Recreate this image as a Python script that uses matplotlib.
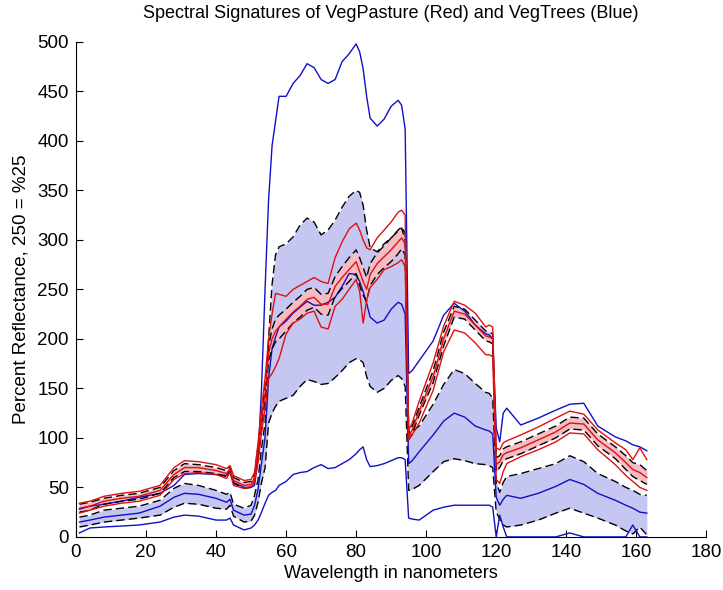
import matplotlib
matplotlib.use("Agg")
import matplotlib.pyplot as plt

# band positions (wavelength index) where values were read
bands = [1, 4, 8, 13, 18, 24, 28, 31, 35, 40, 43, 44, 45, 48, 50, 51, 52, 53, 54, 55,
         56, 57, 58, 60, 62, 64, 66, 68, 70, 72, 74, 76, 78, 80, 81, 82, 83, 84, 86, 88,
         90, 92, 93, 94, 95, 96, 98, 102, 105, 108, 111, 114, 117, 118, 119, 120, 121, 122, 123, 127,
         132, 137, 141, 145, 149, 154, 157, 159, 161, 163]

# VegTrees (blue): max, mean+std, mean, mean-std, min
trees_max = [28, 31, 33, 36, 40, 44, 52, 63, 64, 63, 62, 67, 55, 50, 50, 52, 80, 150, 250, 340,
             395, 420, 445, 445, 458, 466, 478, 474, 462, 458, 462, 480, 488, 498, 490, 473, 445, 423, 415, 422,
             435, 441, 436, 412, 165, 168, 178, 198, 224, 236, 228, 214, 205, 204, 200, 110, 96, 125, 130, 113,
             120, 128, 134, 135, 112, 101, 97, 93, 91, 87]
trees_hi = [20, 22, 27, 29, 31, 37, 49, 54, 52, 47, 43, 45, 33, 29, 32, 42, 58, 90, 115, 200,
            255, 285, 293, 296, 303, 315, 322, 318, 305, 310, 320, 333, 344, 350, 348, 335, 310, 292, 288, 296,
            302, 309, 312, 300, 105, 106, 112, 134, 154, 169, 165, 155, 146, 145, 140, 55, 45, 55, 61, 64,
            69, 74, 82, 76, 64, 56, 50, 47, 43, 42]
trees_mean = [15, 17, 20, 22, 24, 31, 40, 44, 43, 39, 35, 38, 27, 22, 23, 32, 48, 75, 100, 160,
              190, 202, 212, 218, 226, 232, 238, 234, 234, 237, 242, 253, 266, 265, 258, 248, 236, 222, 216, 219,
              230, 237, 235, 225, 74, 77, 86, 103, 117, 125, 121, 112, 108, 107, 104, 40, 32, 38, 42, 39,
              44, 51, 58, 53, 44, 37, 32, 29, 25, 24]
trees_lo = [10, 12, 15, 17, 19, 22, 30, 34, 33, 29, 28, 32, 21, 15, 16, 22, 35, 55, 70, 115,
            125, 132, 137, 140, 143, 152, 159, 157, 154, 155, 161, 168, 176, 180, 179, 176, 162, 152, 146, 150,
            158, 163, 160, 152, 47, 48, 52, 66, 76, 79, 77, 74, 73, 72, 70, 25, 18, 12, 10, 12,
            17, 24, 29, 24, 19, 12, 6, 3, 10, 2]
trees_min = [4, 9, 10, 11, 12, 15, 20, 22, 21, 17, 17, 19, 12, 7, 9, 12, 17, 25, 34, 42,
             45, 47, 52, 56, 63, 65, 66, 70, 73, 69, 70, 74, 78, 84, 88, 91, 78, 71, 72, 74,
             77, 80, 80, 78, 19, 18, 17, 27, 30, 32, 32, 32, 32, 32, 30, 0, 22, 10, 0, 0,
             0, 0, 4, 0, 0, 0, 0, 12, 0, 0]

# VegPasture (red): max, mean+std, mean, mean-std, min
past_max = [34, 36, 41, 44, 46, 52, 70, 77, 76, 73, 69, 72, 62, 57, 58, 65, 95, 130, 160, 200,
            225, 246, 245, 243, 250, 254, 258, 262, 258, 256, 282, 298, 311, 317, 310, 300, 292, 290, 302, 310,
            318, 328, 330, 325, 108, 115, 137, 176, 213, 238, 234, 226, 212, 214, 212, 90, 88, 95, 97, 103,
            111, 120, 127, 124, 108, 95, 88, 78, 90, 78]
past_hi = [33, 35, 39, 42, 44, 50, 67, 74, 73, 70, 67, 71, 60, 55, 56, 63, 92, 124, 152, 192,
           210, 220, 224, 230, 237, 243, 250, 252, 245, 246, 263, 273, 282, 290, 282, 272, 262, 276, 287, 294,
           302, 310, 313, 307, 104, 112, 131, 168, 207, 233, 230, 219, 208, 207, 205, 80, 82, 89, 91, 96,
           104, 112, 121, 120, 104, 91, 82, 75, 73, 67]
past_mean = [29, 31, 36, 39, 41, 47, 63, 70, 70, 67, 64, 69, 57, 52, 53, 60, 88, 118, 145, 185,
             200, 208, 212, 220, 227, 233, 240, 242, 235, 235, 253, 262, 270, 278, 268, 258, 250, 265, 276, 283,
             290, 298, 302, 296, 101, 108, 127, 162, 200, 228, 225, 214, 203, 202, 200, 73, 76, 83, 85, 90,
             98, 106, 115, 114, 98, 85, 75, 68, 65, 60]
past_lo = [25, 27, 33, 36, 38, 44, 60, 66, 66, 64, 61, 66, 54, 49, 50, 56, 82, 112, 138, 178,
           190, 197, 200, 208, 216, 222, 229, 232, 225, 224, 243, 251, 258, 266, 254, 244, 238, 254, 265, 272,
           278, 286, 291, 285, 98, 104, 123, 156, 193, 222, 220, 209, 198, 197, 195, 66, 70, 77, 79, 84,
           92, 100, 109, 108, 92, 79, 68, 61, 57, 53]
past_min = [24, 27, 31, 34, 36, 42, 58, 64, 65, 63, 59, 65, 52, 49, 51, 55, 75, 105, 130, 160,
            165, 172, 180, 205, 216, 220, 226, 228, 212, 210, 233, 240, 250, 260, 248, 216, 239, 252, 260, 270,
            273, 277, 280, 273, 98, 103, 115, 148, 187, 209, 206, 196, 184, 184, 182, 58, 54, 66, 74, 81,
            88, 96, 105, 104, 88, 73, 62, 56, 50, 47]

plt.rcParams['font.family'] = ['Liberation Sans', 'DejaVu Sans']

fig = plt.figure(figsize=(7.23, 5.90), dpi=100)
ax = fig.add_axes([0.105, 0.09, 0.872, 0.839])

dash = (6, 3)

# trees
ax.fill_between(bands, trees_lo, trees_hi, color='#c6c6f2', linewidth=0)
ax.plot(bands, trees_hi, color='k', ls='--', dashes=dash, lw=1)
ax.plot(bands, trees_lo, color='k', ls='--', dashes=dash, lw=1)
ax.plot(bands, trees_max, color='#1010c8', lw=1)
ax.plot(bands, trees_min, color='#1010c8', lw=1)
ax.plot(bands, trees_mean, color='#1010c8', lw=1)

# pasture
ax.fill_between(bands, past_lo, past_hi, color='#f4bcc4', linewidth=0)
ax.plot(bands, past_hi, color='k', ls='--', dashes=dash, lw=1)
ax.plot(bands, past_lo, color='k', ls='--', dashes=dash, lw=1)
ax.plot(bands, past_max, color='#e01010', lw=1)
ax.plot(bands, past_min, color='#e01010', lw=1)
ax.plot(bands, past_mean, color='#e01010', lw=1)

ax.set_xlim(0, 180)
ax.set_ylim(0, 500)
ax.set_xticks(range(0, 181, 20))
ax.set_yticks(range(0, 501, 50))
ax.tick_params(direction='in', length=5, labelsize=13.5, pad=5)
ax.spines['top'].set_visible(False)
ax.spines['right'].set_visible(False)

ax.set_title("Spectral Signatures of VegPasture (Red) and VegTrees (Blue)", fontsize=13, pad=17)
ax.set_xlabel("Wavelength in nanometers", fontsize=13, labelpad=3)
ax.set_ylabel("Percent Reflectance, 250 = %25", fontsize=13.5, labelpad=6)

fig.savefig("out.png", dpi=100)
